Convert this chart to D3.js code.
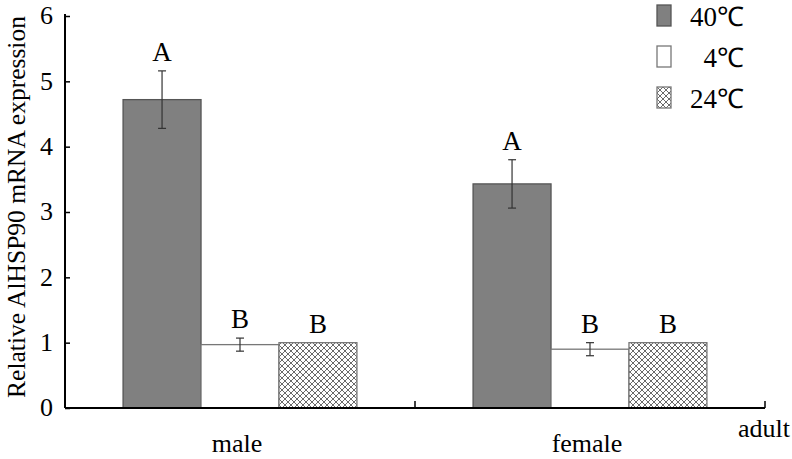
<!DOCTYPE html>
<html><head><meta charset="utf-8">
<script src="https://cdn.jsdelivr.net/npm/d3@7"></script>
<style>body{margin:0;background:#fff}svg{display:block}text{font-family:"Liberation Serif","Times New Roman",serif;fill:#000}</style>
</head><body>
<script>
const categories = ["male", "female"];
const seriesNames = ["40℃", "4℃", "24℃"];
const values = {"40℃": [4.72, 3.43], "4℃": [0.97, 0.90], "24℃": [1.0, 1.0]};
const errors = {"40℃": [0.44, 0.37], "4℃": [0.10, 0.10], "24℃": [0, 0]};
const letters = {"40℃": ["A", "A"], "4℃": ["B", "B"], "24℃": ["B", "B"]};
const yTicks = [0, 1, 2, 3, 4, 5, 6];
const axisSuffix = "adult";

const W = 792, H = 459;
const svg = d3.select("body").append("svg").attr("width", W).attr("height", H);
const defs = svg.append("defs");
const pat = defs.append("pattern").attr("id", "hatch").attr("patternUnits", "userSpaceOnUse")
  .attr("width", 6).attr("height", 6);
pat.append("rect").attr("width", 6).attr("height", 6).attr("fill", "#fff");
pat.append("path").attr("d", "M0,0L6,6M6,0L0,6M-1,5L1,7M5,-1L7,1M-1,1L1,-1M5,7L7,5")
  .attr("stroke", "#6a6a6a").attr("stroke-width", 1);

const x0 = 65, x1 = 765, yTop = 16, yBot = 408;
const x = d3.scaleBand().domain(categories).range([x0, x1]).paddingInner(0).paddingOuter(0);
const xs = d3.scaleBand().domain(seriesNames).range([0, x.bandwidth()]).paddingOuter(0.745).paddingInner(0);
const y = d3.scaleLinear().domain([0, 6]).range([yBot, yTop]);

const fills = {"40℃": "#808080", "4℃": "#fff", "24℃": "url(#hatch)"};
const strokes = {"40℃": "#555", "4℃": "#777", "24℃": "#777"};

seriesNames.forEach(s => {
  categories.forEach((c, i) => {
    const v = values[s][i], e = errors[s][i];
    const bx = x(c) + xs(s), bw = xs.bandwidth();
    svg.append("rect").attr("x", bx).attr("y", y(v)).attr("width", bw).attr("height", yBot - y(v))
      .attr("fill", fills[s]).attr("stroke", strokes[s]).attr("stroke-width", 1.3);
    const cx = bx + bw / 2;
    if (e > 0) {
      const g = svg.append("g").attr("stroke", "#333").attr("stroke-width", 1.2);
      g.append("line").attr("x1", cx).attr("x2", cx).attr("y1", y(v + e)).attr("y2", y(v - e));
      g.append("line").attr("x1", cx - 4).attr("x2", cx + 4).attr("y1", y(v + e)).attr("y2", y(v + e));
      g.append("line").attr("x1", cx - 4).attr("x2", cx + 4).attr("y1", y(v - e)).attr("y2", y(v - e));
    }
    svg.append("text").attr("x", cx).attr("y", y(v + e) - 10).attr("text-anchor", "middle")
      .attr("font-size", 27).text(letters[s][i]);
  });
});

// y axis
const yAxis = d3.axisRight(y).tickValues(yTicks).tickSize(5).tickFormat(d3.format("d"));
const ga = svg.append("g").attr("transform", `translate(${x0},0)`).call(yAxis);
ga.select(".domain").attr("d", `M0,${yTop - 2}V${yBot}`).attr("stroke", "#000").attr("stroke-width", 2);
ga.selectAll(".tick line").attr("stroke", "#000").attr("stroke-width", 1.5);
ga.selectAll(".tick text").attr("x", -12).attr("text-anchor", "end").attr("font-size", 26)
  .attr("dy", "0.3em");

// x axis
const xAxis = d3.axisTop(x).tickValues([]).tickSize(0);
const gx = svg.append("g").attr("transform", `translate(0,${yBot})`).call(xAxis);
gx.select(".domain").attr("d", `M${x0},0H${x1}`).attr("stroke", "#000").attr("stroke-width", 2.2);
[x.range()[0] + x.bandwidth(), x1].forEach(t => {
  gx.append("line").attr("x1", t).attr("x2", t).attr("y1", 0).attr("y2", -7).attr("stroke", "#000").attr("stroke-width", 1.5);
});
categories.forEach(c => {
  svg.append("text").attr("x", x(c) + x.bandwidth() / 2 - 3).attr("y", 452).attr("text-anchor", "middle")
    .attr("font-size", 26).text(c);
});
svg.append("text").attr("x", 790).attr("y", 437).attr("text-anchor", "end").attr("font-size", 26).text(axisSuffix);

// y title
svg.append("text").attr("transform", `translate(25,${(yTop + yBot) / 2 - 5}) rotate(-90)`)
  .attr("text-anchor", "middle").attr("font-size", 25.5).text("Relative AlHSP90 mRNA expression");

// legend
const lg = svg.append("g");
seriesNames.forEach((s, i) => {
  const ly = 5 + i * 41;
  lg.append("rect").attr("x", 657).attr("y", ly).attr("width", 14).attr("height", 21)
    .attr("fill", fills[s]).attr("stroke", strokes[s]).attr("stroke-width", 1.3);
  lg.append("text").attr("x", 744).attr("y", ly + 21).attr("text-anchor", "end").attr("font-size", 27)
    .text(s);
});
</script>
</body></html>
